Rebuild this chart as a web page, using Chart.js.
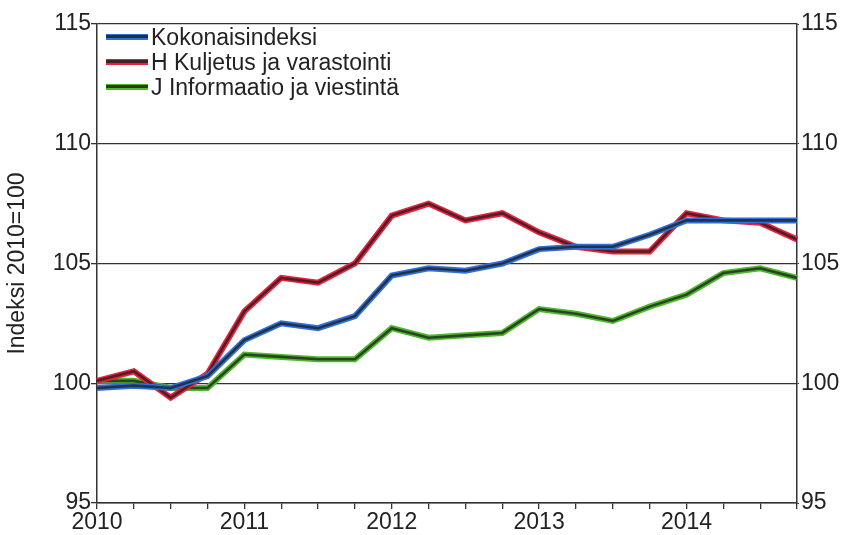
<!DOCTYPE html>
<html>
<head>
<meta charset="utf-8">
<script src="https://cdn.jsdelivr.net/npm/chart.js@4.4.1/dist/chart.umd.min.js"></script>
<style>
body { margin: 0; background: #fff; }
#wrap { position: relative; width: 844px; height: 535px; }
#legend { position: absolute; left: 106px; top: 25px; font: 23px 'Liberation Sans Narrow', 'Arial Narrow', sans-serif; color: #222; line-height: 25px; }
#legend div { white-space: nowrap; }
.sw { display: inline-block; width: 42px; height: 6px; margin-right: 3px; vertical-align: middle; position: relative; top: -2px; }
.sw i { position: absolute; left: 0; right: 0; top: 1.5px; height: 3px; background: rgba(30,30,30,0.8); }
</style>
</head>
<body>
<div id="wrap">
  <canvas id="chart" width="844" height="535"></canvas>
  <div id="legend"></div>
</div>
<script>
var quarters = ['2010Q1','2010Q2','2010Q3','2010Q4','2011Q1','2011Q2','2011Q3','2011Q4',
                '2012Q1','2012Q2','2012Q3','2012Q4','2013Q1','2013Q2','2013Q3','2013Q4',
                '2014Q1','2014Q2','2014Q3','2014Q4'];
var years = ['2010', '2011', '2012', '2013', '2014'];
var names = ['Kokonaisindeksi', 'H Kuljetus ja varastointi', 'J Informaatio ja viestintä'];

var kokonais = [99.8, 99.9, 99.8, 100.3, 101.8, 102.5, 102.3, 102.8, 104.5, 104.8,
                104.7, 105.0, 105.6, 105.7, 105.7, 106.2, 106.8, 106.8, 106.8, 106.8];
var kuljetus = [100.1, 100.5, 99.4, 100.4, 103.0, 104.4, 104.2, 105.0, 107.0, 107.5,
                106.8, 107.1, 106.3, 105.7, 105.5, 105.5, 107.1, 106.8, 106.7, 106.0];
var informaatio = [100.1, 100.1, 99.8, 99.8, 101.2, 101.1, 101.0, 101.0, 102.3, 101.9,
                   102.0, 102.1, 103.1, 102.9, 102.6, 103.2, 103.7, 104.6, 104.8, 104.4];

var colors = ['#2f6fd8', '#e8203c', '#4cb82c'];
var series = [kokonais, kuljetus, informaatio];

var datasets = [];
for (let i = 0; i < series.length; i++) {
    // dark core line drawn over the coloured one, like the original print
    datasets.push({
        label: names[i] + ' core',
        data: series[i],
        borderColor: 'rgba(30,30,30,0.75)',
        borderWidth: 2.6,
        pointRadius: 0,
        tension: 0,
        order: i * 2
    });
    datasets.push({
        label: names[i],
        data: series[i],
        borderColor: colors[i],
        borderWidth: 6,
        pointRadius: 0,
        tension: 0,
        order: i * 2 + 1
    });
}

var font = { family: "'Liberation Sans Narrow', 'Arial Narrow', sans-serif", size: 23 };
var axisColor = '#333';

const config = {
    type: 'line',
    data: { labels: quarters, datasets: datasets },
    options: {
        responsive: false,
        animation: false,
        layout: { padding: { top: 24, left: 0, right: 0, bottom: 0 } },
        plugins: {
            legend: { display: false },
            tooltip: { enabled: false }
        },
        scales: {
            x: {
                offset: false,
                grid: { drawOnChartArea: false, color: axisColor, tickLength: 6, lineWidth: 1.3 },
                border: { color: axisColor, width: 1.5 },
                ticks: {
                    autoSkip: false, maxRotation: 0, padding: 0,
                    color: '#222', font: font,
                    callback: function(v, i) { return i % 4 === 0 ? years[i / 4] : ''; }
                },
                afterFit: function(s) { s.height = 32; }
            },
            y: {
                min: 95, max: 115,
                ticks: { stepSize: 5, padding: 0, color: '#222', font: font },
                grid: { color: axisColor, tickLength: 6, lineWidth: 1.3 },
                border: { color: axisColor, width: 1.5 },
                title: {
                    display: true, text: 'Indeksi 2010=100', color: '#222',
                    font: font, padding: { top: 4, bottom: 0 }
                },
                afterFit: function(s) { s.width = 97; }
            },
            y2: {
                position: 'right',
                min: 95, max: 115,
                ticks: { stepSize: 5, padding: 2, color: '#222', font: font },
                grid: { drawOnChartArea: false, color: axisColor, tickLength: 2 },
                border: { color: axisColor, width: 1.5 },
                afterFit: function(s) { s.width = 47; }
            }
        }
    }
};

const myChart = new Chart(document.getElementById('chart'), config);

var legend = document.getElementById('legend');
for (let i = 0; i < names.length; i++) {
    var row = document.createElement('div');
    row.innerHTML = '<span class="sw" style="background:' + colors[i] + '"><i></i></span>' + names[i];
    legend.appendChild(row);
}
</script>
</body>
</html>
